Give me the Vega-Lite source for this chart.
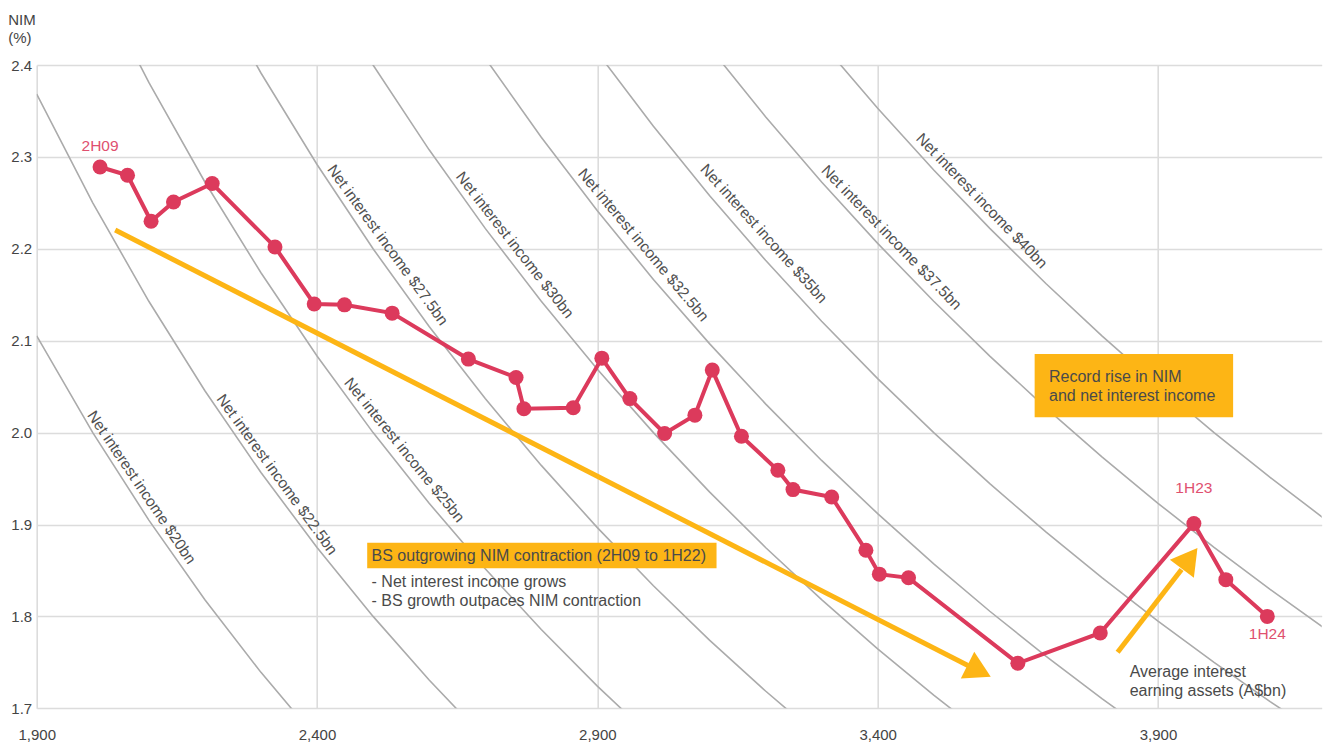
{
"$schema":"https://vega.github.io/schema/vega-lite/v6.json",
"width":1285,"height":643.3,
"autosize":{"type":"none"},
"padding":{"left":36.7,"top":65,"right":2.3,"bottom":35.7},
"config":{"view":{"stroke":null},"font":"Liberation Sans"},
"datasets":{
"curves":[
{"nii":20,"a":1900,"nim":2.1053},{"nii":20,"a":2000,"nim":2.0},{"nii":20,"a":2100,"nim":1.9048},{"nii":20,"a":2200,"nim":1.8182},{"nii":20,"a":2300,"nim":1.7391},{"nii":20,"a":2400,"nim":1.6667},
{"nii":22.5,"a":1900,"nim":2.3684},{"nii":22.5,"a":2000,"nim":2.25},{"nii":22.5,"a":2100,"nim":2.1429},{"nii":22.5,"a":2200,"nim":2.0455},{"nii":22.5,"a":2300,"nim":1.9565},{"nii":22.5,"a":2400,"nim":1.875},{"nii":22.5,"a":2500,"nim":1.8},{"nii":22.5,"a":2600,"nim":1.7308},{"nii":22.5,"a":2700,"nim":1.6667},
{"nii":25,"a":2000,"nim":2.5},{"nii":25,"a":2100,"nim":2.381},{"nii":25,"a":2200,"nim":2.2727},{"nii":25,"a":2300,"nim":2.1739},{"nii":25,"a":2400,"nim":2.0833},{"nii":25,"a":2500,"nim":2.0},{"nii":25,"a":2600,"nim":1.9231},{"nii":25,"a":2700,"nim":1.8519},{"nii":25,"a":2800,"nim":1.7857},{"nii":25,"a":2900,"nim":1.7241},{"nii":25,"a":3000,"nim":1.6667},
{"nii":27.5,"a":2200,"nim":2.5},{"nii":27.5,"a":2300,"nim":2.3913},{"nii":27.5,"a":2400,"nim":2.2917},{"nii":27.5,"a":2500,"nim":2.2},{"nii":27.5,"a":2600,"nim":2.1154},{"nii":27.5,"a":2700,"nim":2.037},{"nii":27.5,"a":2800,"nim":1.9643},{"nii":27.5,"a":2900,"nim":1.8966},{"nii":27.5,"a":3000,"nim":1.8333},{"nii":27.5,"a":3100,"nim":1.7742},{"nii":27.5,"a":3200,"nim":1.7188},{"nii":27.5,"a":3300,"nim":1.6667},
{"nii":30,"a":2400,"nim":2.5},{"nii":30,"a":2500,"nim":2.4},{"nii":30,"a":2600,"nim":2.3077},{"nii":30,"a":2700,"nim":2.2222},{"nii":30,"a":2800,"nim":2.1429},{"nii":30,"a":2900,"nim":2.069},{"nii":30,"a":3000,"nim":2.0},{"nii":30,"a":3100,"nim":1.9355},{"nii":30,"a":3200,"nim":1.875},{"nii":30,"a":3300,"nim":1.8182},{"nii":30,"a":3400,"nim":1.7647},{"nii":30,"a":3500,"nim":1.7143},{"nii":30,"a":3600,"nim":1.6667},
{"nii":32.5,"a":2700,"nim":2.4074},{"nii":32.5,"a":2800,"nim":2.3214},{"nii":32.5,"a":2900,"nim":2.2414},{"nii":32.5,"a":3000,"nim":2.1667},{"nii":32.5,"a":3100,"nim":2.0968},{"nii":32.5,"a":3200,"nim":2.0313},{"nii":32.5,"a":3300,"nim":1.9697},{"nii":32.5,"a":3400,"nim":1.9118},{"nii":32.5,"a":3500,"nim":1.8571},{"nii":32.5,"a":3600,"nim":1.8056},{"nii":32.5,"a":3700,"nim":1.7568},{"nii":32.5,"a":3800,"nim":1.7105},{"nii":32.5,"a":3900,"nim":1.6667},
{"nii":35,"a":2900,"nim":2.4138},{"nii":35,"a":3000,"nim":2.3333},{"nii":35,"a":3100,"nim":2.2581},{"nii":35,"a":3200,"nim":2.1875},{"nii":35,"a":3300,"nim":2.1212},{"nii":35,"a":3400,"nim":2.0588},{"nii":35,"a":3500,"nim":2.0},{"nii":35,"a":3600,"nim":1.9444},{"nii":35,"a":3700,"nim":1.8919},{"nii":35,"a":3800,"nim":1.8421},{"nii":35,"a":3900,"nim":1.7949},{"nii":35,"a":4000,"nim":1.75},{"nii":35,"a":4100,"nim":1.7073},{"nii":35,"a":4200,"nim":1.6667},
{"nii":37.5,"a":3100,"nim":2.4194},{"nii":37.5,"a":3200,"nim":2.3438},{"nii":37.5,"a":3300,"nim":2.2727},{"nii":37.5,"a":3400,"nim":2.2059},{"nii":37.5,"a":3500,"nim":2.1429},{"nii":37.5,"a":3600,"nim":2.0833},{"nii":37.5,"a":3700,"nim":2.027},{"nii":37.5,"a":3800,"nim":1.9737},{"nii":37.5,"a":3900,"nim":1.9231},{"nii":37.5,"a":4000,"nim":1.875},{"nii":37.5,"a":4100,"nim":1.8293},{"nii":37.5,"a":4200,"nim":1.7857},
{"nii":40,"a":3300,"nim":2.4242},{"nii":40,"a":3400,"nim":2.3529},{"nii":40,"a":3500,"nim":2.2857},{"nii":40,"a":3600,"nim":2.2222},{"nii":40,"a":3700,"nim":2.1622},{"nii":40,"a":3800,"nim":2.1053},{"nii":40,"a":3900,"nim":2.0513},{"nii":40,"a":4000,"nim":2.0},{"nii":40,"a":4100,"nim":1.9512},{"nii":40,"a":4200,"nim":1.9048}
],
"nim":[
{"period":"2H09","a":2013,"nim":2.289},{"period":"1H10","a":2062,"nim":2.280},{"period":"2H10","a":2104,"nim":2.230},{"period":"1H11","a":2144,"nim":2.251},{"period":"2H11","a":2213,"nim":2.271},
{"period":"1H12","a":2325,"nim":2.202},{"period":"2H12","a":2395,"nim":2.140},{"period":"1H13","a":2449,"nim":2.139},{"period":"2H13","a":2534,"nim":2.130},{"period":"1H14","a":2670,"nim":2.080},
{"period":"2H14","a":2755,"nim":2.060},{"period":"1H15","a":2769,"nim":2.026},{"period":"2H15","a":2857,"nim":2.027},{"period":"1H16","a":2908,"nim":2.081},{"period":"2H16","a":2958,"nim":2.037},
{"period":"1H17","a":3020,"nim":1.999},{"period":"2H17","a":3074,"nim":2.019},{"period":"1H18","a":3105,"nim":2.068},{"period":"2H18","a":3157,"nim":1.996},{"period":"1H19","a":3222,"nim":1.959},
{"period":"2H19","a":3249,"nim":1.938},{"period":"1H20","a":3318,"nim":1.930},{"period":"2H20","a":3379,"nim":1.872},{"period":"1H21","a":3403,"nim":1.846},{"period":"2H21","a":3455,"nim":1.842},
{"period":"1H22","a":3650,"nim":1.749},{"period":"2H22","a":3797,"nim":1.782},{"period":"1H23","a":3964,"nim":1.901},{"period":"2H23","a":4021,"nim":1.840},{"period":"1H24","a":4095,"nim":1.800}
],
"arrows":[
{"arrow":"contraction","a":2040,"nim":2.2205},{"arrow":"contraction","a":3561,"nim":1.7466},
{"arrow":"rise","a":3828,"nim":1.761},{"arrow":"rise","a":3942,"nim":1.851}
],
"heads":[
{"arrow":"contraction","a":3581,"nim":1.7406},
{"arrow":"rise","a":3956.5,"nim":1.8631}
],
"boxes":[
{"box":"contraction","a":2489.5,"a2":3112.6,"nim":1.8802,"nim2":1.8523},
{"box":"rise","a":3680,"a2":4034,"nim":2.0855,"nim2":2.0166}
],
"boxtext":[
{"label":"BS outgrowing NIM contraction (2H09 to 1H22)","a":2497.3,"nim":1.8652},
{"label":"Record rise in NIM","a":3705.6,"nim":2.061},
{"label":"and net interest income","a":3705.6,"nim":2.04}
],
"notes":[
{"label":"- Net interest income grows","a":2497.3,"nim":1.8378},
{"label":"- BS growth outpaces NIM contraction","a":2497.3,"nim":1.817},
{"label":"Average interest","a":3849.5,"nim":1.740},
{"label":"earning assets (A$bn)","a":3849.5,"nim":1.7183}
],
"curvelabels":[
{"nii":20,"label":"Net interest income $20bn","a":2087,"nim":1.9403},
{"nii":22.5,"label":"Net interest income $22.5bn","a":2328.5,"nim":1.9544},
{"nii":25,"label":"Net interest income $25bn","a":2555.8,"nim":1.981},
{"nii":27.5,"label":"Net interest income $27.5bn","a":2526,"nim":2.2041},
{"nii":30,"label":"Net interest income $30bn","a":2752.9,"nim":2.2041},
{"nii":32.5,"label":"Net interest income $32.5bn","a":2982,"nim":2.2041},
{"nii":35,"label":"Net interest income $35bn","a":3196.9,"nim":2.2166},
{"nii":37.5,"label":"Net interest income $37.5bn","a":3424.6,"nim":2.2123},
{"nii":40,"label":"Net interest income $40bn","a":3585.6,"nim":2.2522}
]
},
"encoding":{
"x":{"field":"a","type":"quantitative","scale":{"domain":[1900,4192],"nice":false,"zero":false},
"axis":{"values":[1900,2400,2900,3400,3900],"format":",.0f","title":null,"grid":true,"gridColor":"#dcdcdc","gridWidth":1.6,"domain":false,"ticks":false,"labelFlush":false,"labelOverlap":false,"labelFontSize":15,"labelColor":"#444444","labelPadding":19,"labelFont":"Liberation Sans"}},
"y":{"field":"nim","type":"quantitative","scale":{"domain":[1.7,2.4],"nice":false,"zero":false},
"axis":{"values":[1.7,1.8,1.9,2.0,2.1,2.2,2.3,2.4],"format":".1f","title":["NIM","(%)"],"titleAngle":0,"titleAlign":"left","titleBaseline":"top","titleX":-29,"titleY":-53,"titleFontSize":15,"titleFontWeight":"normal","titleColor":"#444444","titleLineHeight":18,"titleFont":"Liberation Sans","grid":true,"gridColor":"#dcdcdc","gridWidth":1.6,"domain":false,"ticks":false,"labelFlush":false,"labelOverlap":false,"labelFontSize":15,"labelColor":"#444444","labelPadding":5,"labelFont":"Liberation Sans"}}
},
"layer":[
{"data":{"name":"curves"},"mark":{"type":"line","clip":true,"color":"#ababab","strokeWidth":1.6},"encoding":{"detail":{"field":"nii","type":"nominal"}}},
{"data":{"name":"arrows"},"mark":{"type":"line","color":"#FDB515","strokeWidth":5},"encoding":{"detail":{"field":"arrow","type":"nominal"}}},
{"data":{"name":"heads"},"transform":[{"filter":"datum.arrow==='contraction'"}],"mark":{"type":"point","shape":"triangle-up","filled":true,"opacity":1,"size":900,"angle":116.6,"color":"#FDB515","strokeWidth":0},"encoding":{}},
{"data":{"name":"heads"},"transform":[{"filter":"datum.arrow==='rise'"}],"mark":{"type":"point","shape":"triangle-up","filled":true,"opacity":1,"size":900,"angle":36.8,"color":"#FDB515","strokeWidth":0},"encoding":{}},
{"data":{"name":"boxes"},"mark":{"type":"rect","color":"#FDB515"},"encoding":{"x2":{"field":"a2"},"y2":{"field":"nim2"}}},
{"data":{"name":"nim"},"mark":{"type":"line","color":"#DC3A5C","strokeWidth":4},"encoding":{}},
{"data":{"name":"nim"},"mark":{"type":"point","shape":"circle","filled":true,"opacity":1,"size":225,"color":"#DC3A5C","strokeWidth":0},"encoding":{}},
{"data":{"name":"nim"},"transform":[{"filter":"datum.period==='2H09'"}],"mark":{"type":"text","fontSize":15.5,"color":"#E0506F","dy":-21,"align":"center","baseline":"middle"},"encoding":{"text":{"field":"period"}}},
{"data":{"name":"nim"},"transform":[{"filter":"datum.period==='1H23'"}],"mark":{"type":"text","fontSize":15.5,"color":"#E0506F","dy":-36,"align":"center","baseline":"middle"},"encoding":{"text":{"field":"period"}}},
{"data":{"name":"nim"},"transform":[{"filter":"datum.period==='1H24'"}],"mark":{"type":"text","fontSize":15.5,"color":"#E0506F","dy":18,"align":"center","baseline":"middle"},"encoding":{"text":{"field":"period"}}},
{"data":{"name":"curvelabels"},"transform":[{"filter":"datum.nii===20"}],"mark":{"type":"text","fontSize":15.5,"color":"#505050","angle":56,"align":"center","baseline":"middle"},"encoding":{"text":{"field":"label"}}},
{"data":{"name":"curvelabels"},"transform":[{"filter":"datum.nii===22.5 || datum.nii===27.5"}],"mark":{"type":"text","fontSize":15.5,"color":"#505050","angle":54,"align":"center","baseline":"middle"},"encoding":{"text":{"field":"label"}}},
{"data":{"name":"curvelabels"},"transform":[{"filter":"datum.nii===25"}],"mark":{"type":"text","fontSize":15.5,"color":"#505050","angle":51,"align":"center","baseline":"middle"},"encoding":{"text":{"field":"label"}}},
{"data":{"name":"curvelabels"},"transform":[{"filter":"datum.nii===30"}],"mark":{"type":"text","fontSize":15.5,"color":"#505050","angle":52,"align":"center","baseline":"middle"},"encoding":{"text":{"field":"label"}}},
{"data":{"name":"curvelabels"},"transform":[{"filter":"datum.nii===32.5"}],"mark":{"type":"text","fontSize":15.5,"color":"#505050","angle":50,"align":"center","baseline":"middle"},"encoding":{"text":{"field":"label"}}},
{"data":{"name":"curvelabels"},"transform":[{"filter":"datum.nii===35"}],"mark":{"type":"text","fontSize":15.5,"color":"#505050","angle":48,"align":"center","baseline":"middle"},"encoding":{"text":{"field":"label"}}},
{"data":{"name":"curvelabels"},"transform":[{"filter":"datum.nii===37.5 || datum.nii===40"}],"mark":{"type":"text","fontSize":15.5,"color":"#505050","angle":46,"align":"center","baseline":"middle"},"encoding":{"text":{"field":"label"}}},
{"data":{"name":"boxtext"},"mark":{"type":"text","fontSize":16,"color":"#4a4a4a","align":"left","baseline":"middle"},"encoding":{"text":{"field":"label"}}},
{"data":{"name":"notes"},"mark":{"type":"text","fontSize":16,"color":"#4a4a4a","align":"left","baseline":"middle"},"encoding":{"text":{"field":"label"}}}
]
}
